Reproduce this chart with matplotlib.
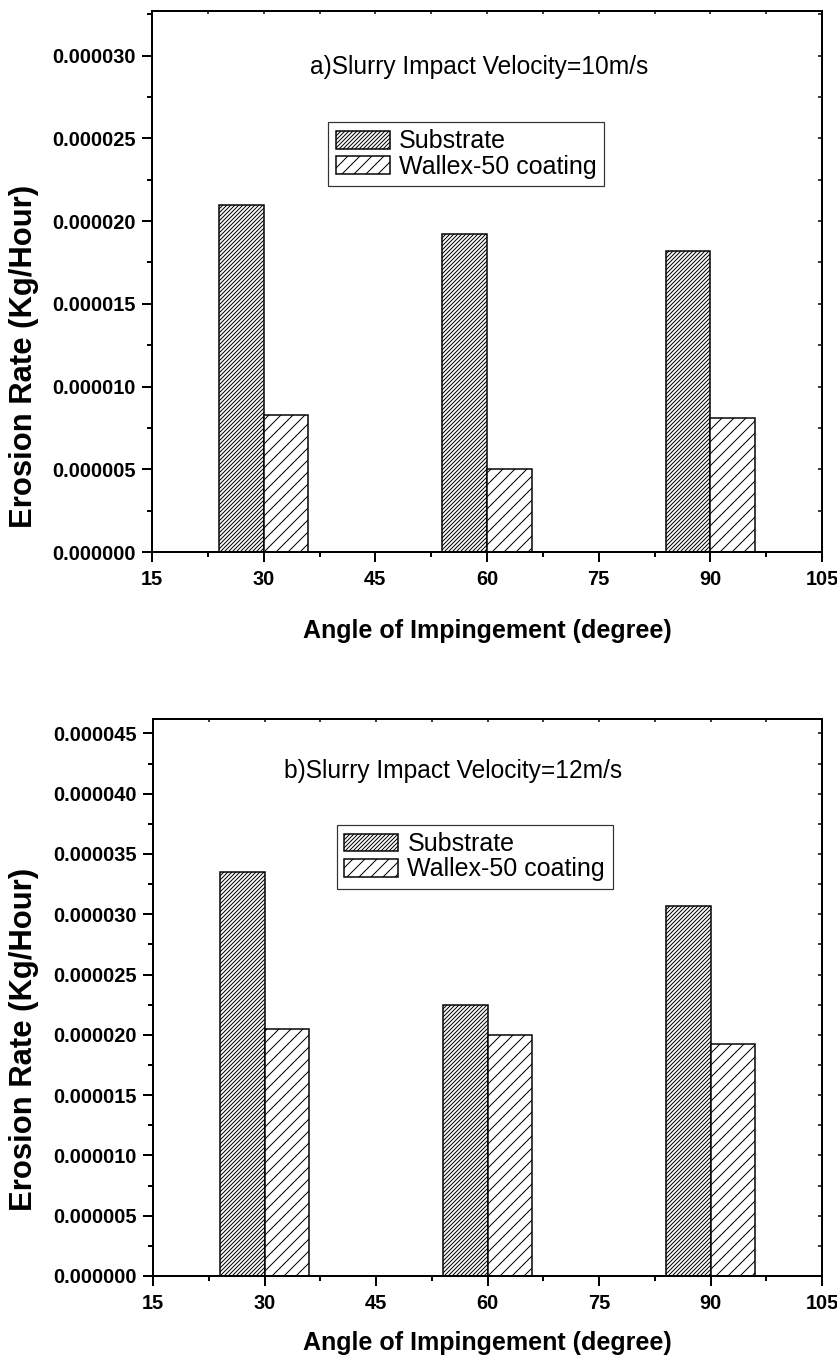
import matplotlib
matplotlib.use('Agg')
import matplotlib.pyplot as plt
import numpy as np
from matplotlib.ticker import MultipleLocator, FormatStrFormatter

plt.rcParams['font.family'] = ['Liberation Sans', 'DejaVu Sans']
plt.rcParams['hatch.linewidth'] = 1.0

# data
angles = [30, 60, 90]
substrate_10 = [2.10e-5, 1.92e-5, 1.82e-5]
coating_10 = [8.3e-6, 5.0e-6, 8.1e-6]
substrate_12 = [3.35e-5, 2.25e-5, 3.07e-5]
coating_12 = [2.05e-5, 2.00e-5, 1.92e-5]
series_names = ['Substrate', 'Wallex-50 coating']
titles = ['a)Slurry Impact Velocity=10m/s', 'b)Slurry Impact Velocity=12m/s']


def draw_panel(ax, sub, coat, title, ytop, title_pos, legend_pos, ylab_pos,
               xpad):
    x = np.array(angles)
    w = 6
    ax.bar(x - w / 2, sub, width=w, color='white', edgecolor='black',
           hatch='//////', linewidth=1.5, label=series_names[0])
    ax.bar(x + w / 2, coat, width=w, color='white', edgecolor='black',
           hatch='//', linewidth=1.5, label=series_names[1])

    ax.set_xlim(15, 105)
    ax.set_ylim(0, ytop)
    ax.xaxis.set_major_locator(MultipleLocator(15))
    ax.xaxis.set_minor_locator(MultipleLocator(7.5))
    ax.yaxis.set_major_locator(MultipleLocator(5e-6))
    ax.yaxis.set_minor_locator(MultipleLocator(2.5e-6))
    ax.yaxis.set_major_formatter(FormatStrFormatter('%.6f'))

    for s in ax.spines.values():
        s.set_linewidth(2)

    ax.tick_params(which='major', direction='out', length=10, width=2,
                   labelsize=20, pad=6)
    ax.tick_params(axis='x', which='major', pad=8)
    ax.tick_params(which='minor', direction='out', length=5, width=2)
    for lab in ax.get_xticklabels() + ax.get_yticklabels():
        lab.set_fontweight('bold')

    # inward ticks on top and right
    top = ax.secondary_xaxis('top')
    top.xaxis.set_major_locator(MultipleLocator(15))
    top.xaxis.set_minor_locator(MultipleLocator(7.5))
    top.tick_params(which='both', direction='in', length=3, width=1.5,
                    labeltop=False)
    top.spines['top'].set_linewidth(2)
    right = ax.secondary_yaxis('right')
    right.yaxis.set_major_locator(MultipleLocator(5e-6))
    right.yaxis.set_minor_locator(MultipleLocator(2.5e-6))
    right.tick_params(which='both', direction='in', length=4, width=1.5,
                      labelright=False)
    right.spines['right'].set_linewidth(2)

    ax.set_xlabel('Angle of Impingement (degree)', fontsize=25,
                  fontweight='bold', labelpad=xpad)
    ax.set_ylabel('Erosion Rate (Kg/Hour)', fontsize=31, fontweight='bold')
    ax.yaxis.set_label_coords(ylab_pos[0], ylab_pos[1])

    ax.text(title_pos[0], title_pos[1], title, transform=ax.transAxes,
            fontsize=24.5, ha='left', va='center')

    leg = ax.legend(loc='upper left', bbox_to_anchor=legend_pos,
                    borderaxespad=0, fontsize=25, frameon=True, fancybox=False,
                    edgecolor='black', handlelength=2.16, handleheight=0.72,
                    handletextpad=0.36, labelspacing=0.05, borderpad=0.3)
    leg.get_frame().set_linewidth(1.2)


fig = plt.figure(figsize=(837 / 72, 1360 / 72), dpi=72)
ax1 = fig.add_axes([0.1816, 0.5941, 0.8005, 0.3978])
ax2 = fig.add_axes([0.1828, 0.0618, 0.7993, 0.4096])

draw_panel(ax1, substrate_10, coating_10, titles[0], 3.27e-5,
           (0.236, 0.896), (0.263, 0.795), (-0.169, 0.362), 30)
draw_panel(ax2, substrate_12, coating_12, titles[1], 4.62e-5,
           (0.196, 0.907), (0.275, 0.81), (-0.170, 0.424), 18)

plt.savefig('out.png', dpi=72)
